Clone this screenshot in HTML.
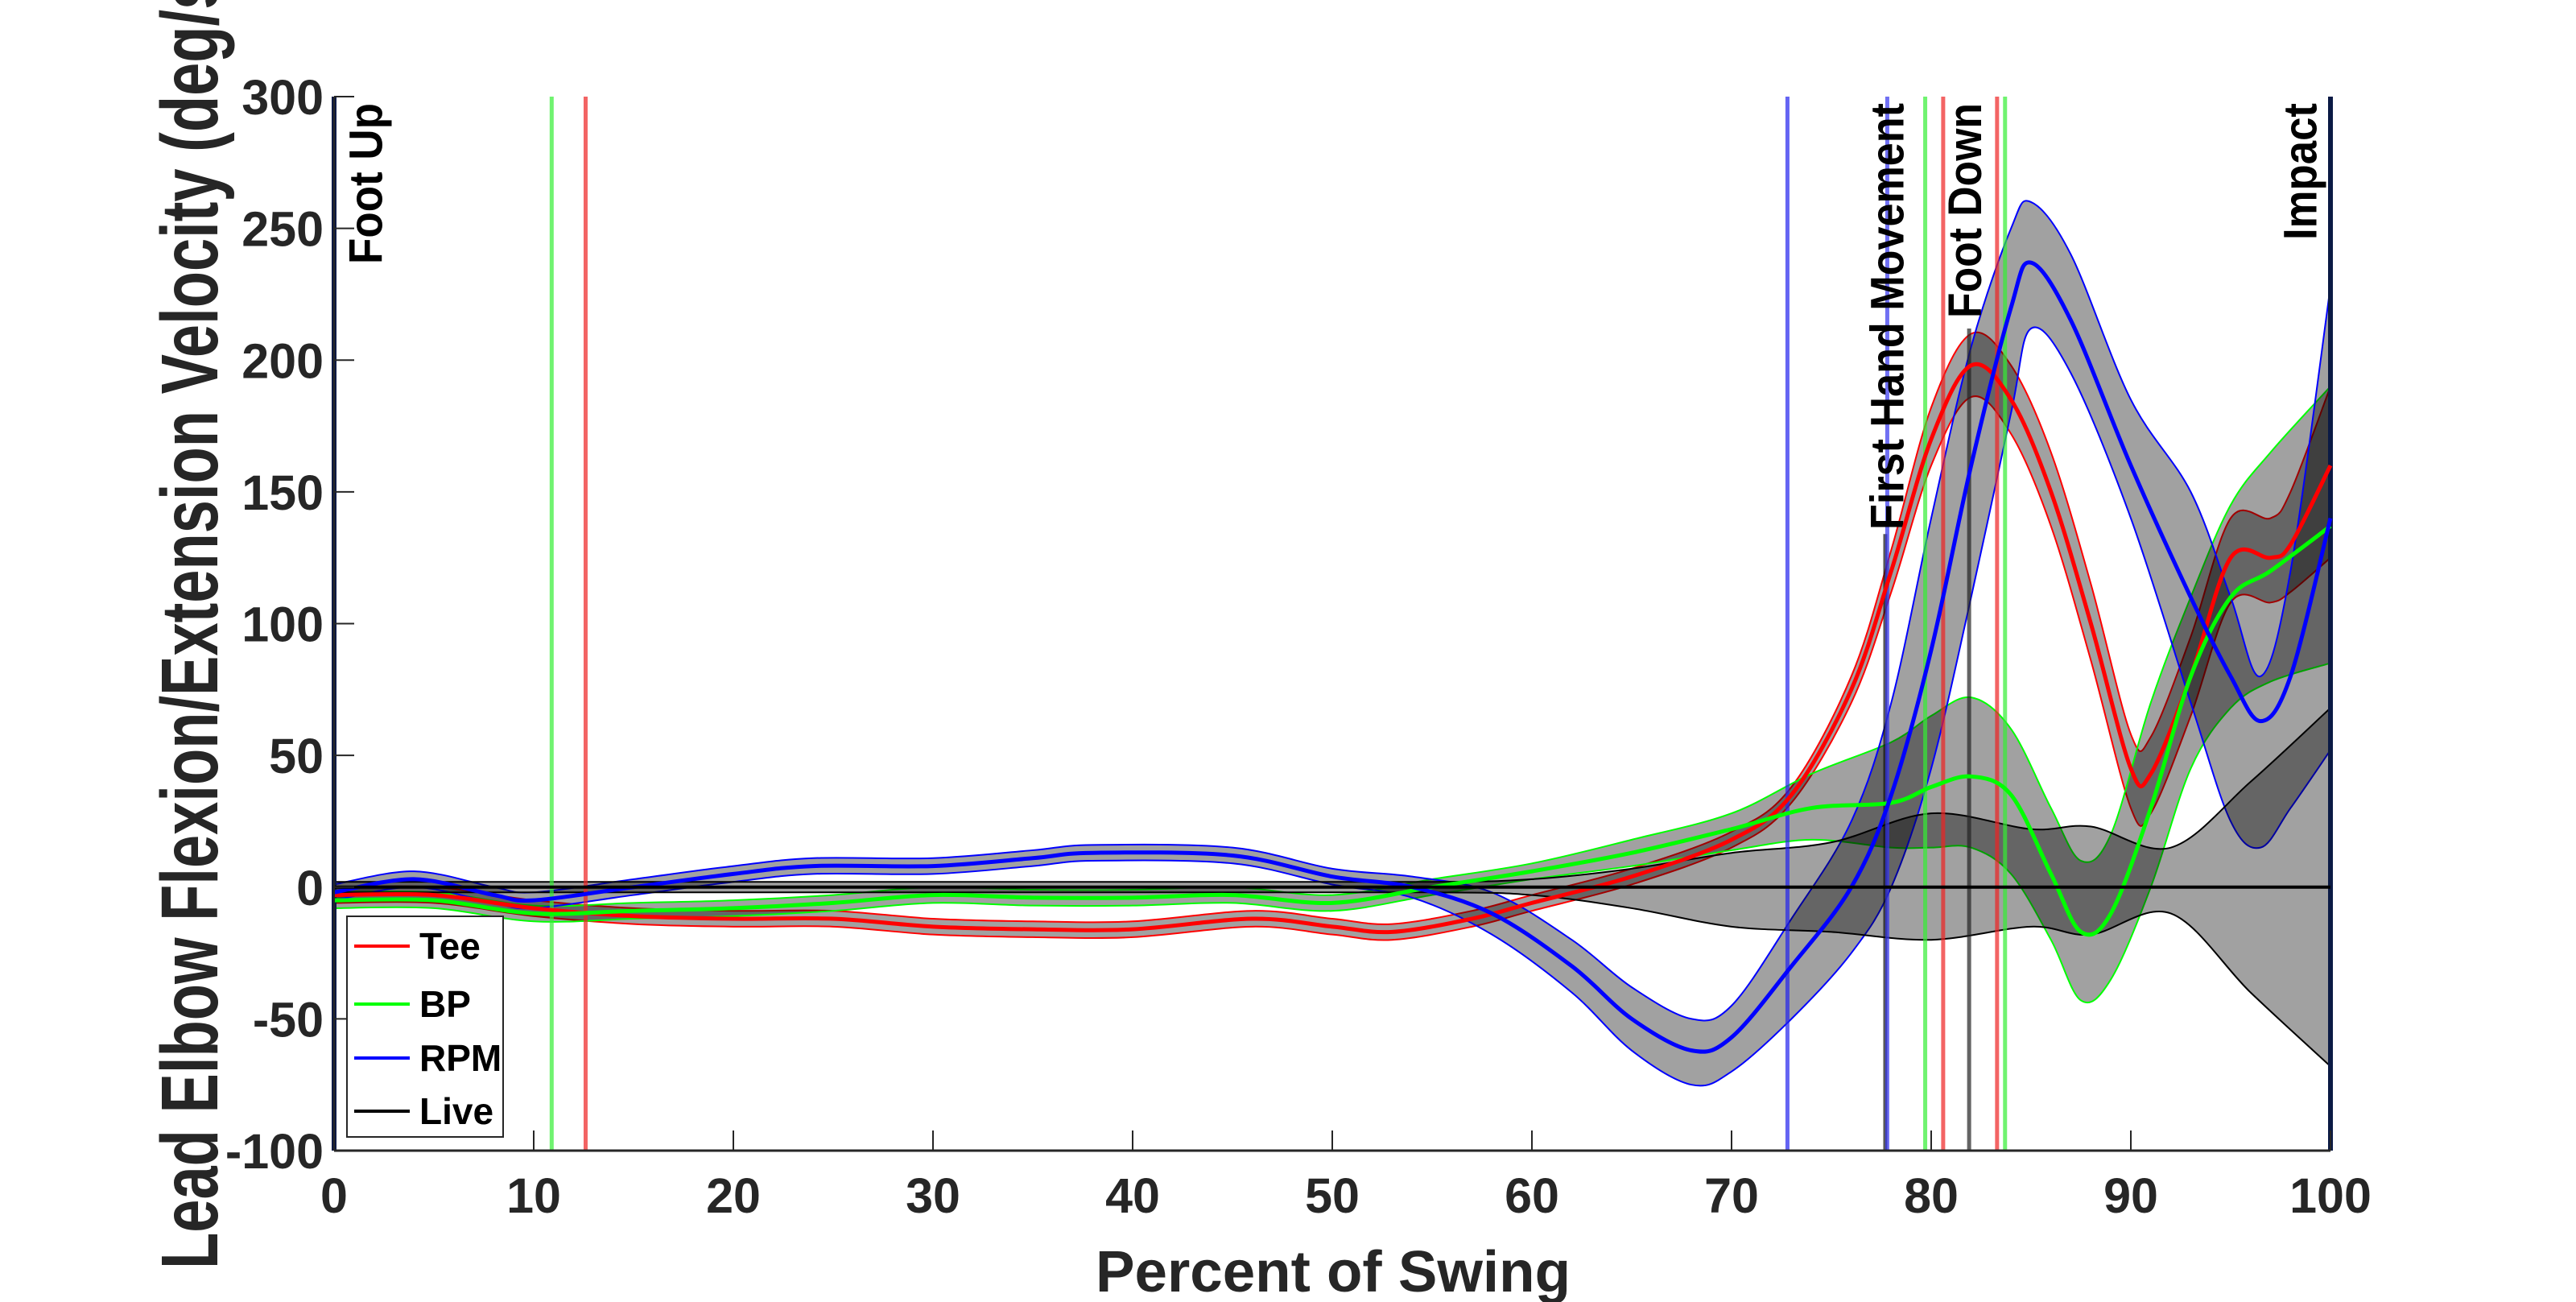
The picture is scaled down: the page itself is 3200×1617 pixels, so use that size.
<!DOCTYPE html>
<html><head><meta charset="utf-8"><style>
html,body{margin:0;padding:0;background:#fff}
svg{display:block}
text{font-family:"Liberation Sans",Arial,sans-serif;font-weight:bold;fill:#262626}
</style></head><body>
<svg id="chart" width="3200" height="1617" viewBox="0 0 3200 1617" xmlns="http://www.w3.org/2000/svg">
<g id="bands"></g>
<g id="events"></g>
<g id="lines"></g>
<g id="axes"></g>
</svg>
<script>
// ---- data ----
const xTicks = [0,10,20,30,40,50,60,70,80,90,100];
const yTicks = [-100,-50,0,50,100,150,200,250,300];

const teeX    = [0,5,10,15,20,25,30,35,40,46,50,53,57,60,65,70,73,76,78,80,82,84,86,88,90,91,93,95,97,98,100];
const teeMean = [-3,-3,-8,-11,-12,-12,-15,-16,-16,-12,-15,-17,-12,-6,4,18,35,75,120,170,198,185,150,100,45,43,80,125,125,130,160];
const teeUp   = [0,0,-5,-8,-9,-9,-12,-13,-13,-9,-12,-14,-9,-3,7,21,38,80,128,182,210,198,165,115,58,57,95,140,140,150,190];
const teeLo   = [-6,-6,-11,-14,-15,-15,-18,-19,-19,-15,-18,-20,-15,-9,1,15,32,70,112,160,186,172,137,86,30,28,65,108,108,112,125];

const bpX    = [0,5,10,15,20,25,30,35,40,45,50,55,60,65,70,74,78,80,82,84,86,87.5,89,91,93,95,97,100];
const bpMean = [-5,-5,-10,-9,-8,-6,-3,-4,-4,-3,-6,0,6,13,22,30,32,38,42,35,5,-17,-10,30,80,110,120,137];
const bpUp   = [-2,-2,-7,-6,-5,-3,0,-1,-1,0,-3,3,9,18,28,43,55,65,72,60,30,10,20,70,110,145,165,190];
const bpLo   = [-8,-8,-13,-12,-11,-9,-6,-7,-7,-6,-9,-3,3,8,14,18,15,15,15,5,-20,-43,-35,0,45,68,78,85];

const rpmX    = [0,4,8,10,15,20,24,30,35,38,45,50,54,58,62,65,68,70,73,76,78,80,82,84,85,87,90,93,95,96.5,98,100];
const rpmMean = [-2,3,-3,-5,0,5,8,8,11,13,12,4,0,-10,-30,-50,-62,-57,-30,0,35,90,160,220,237,215,160,110,80,63,80,140];
const rpmUp   = [1,6,0,-2,3,8,11,11,14,16,15,7,4,-2,-20,-38,-50,-45,-12,25,70,140,205,250,260,240,185,150,110,80,120,228];
const rpmLo   = [-5,0,-6,-8,-3,2,5,5,8,10,9,1,-4,-18,-40,-62,-75,-70,-50,-25,0,45,110,180,212,195,140,70,25,15,30,52];

const liveX    = [0,20,40,55,60,65,70,75,80,85,88,92,96,100];
const liveMean = [0,0,0,0,0,0,0,0,0,0,0,0,0,0];
const liveUp   = [2,2,2,2,3,7,13,17,28,22,23,15,40,68];
const liveLo   = [-2,-2,-2,-2,-3,-8,-15,-17,-20,-15,-18,-10,-40,-68];

const eventPct    = [0,10.9,12.6,72.8,77.7,77.8,79.7,80.6,81.9,83.3,83.7,100];
const eventColors = ["#0b1a45","#33ee33","#ee2222","#2222ee","#111111","#3333ee","#33ee33","#ee2222","#222222","#ee2222","#33ee33","#0b1a45"];
const eventTop    = [300,300,300,300,134,300,300,300,212,300,300,300];

const labelText = ["Foot Up","First Hand Movement","Foot Down","Impact"];
const labelPct  = [2.4,78.6,82.5,99.3];
const labelLen  = [200,530,267,170];

// ---- scales ----
const L=415,R=2895,T=120,B=1429;
const xs=v=>L+(v/100)*(R-L);
const ys=v=>B-(v+100)/400*(B-T);
const NS="http://www.w3.org/2000/svg";
function mk(tag,attrs,parent){const e=document.createElementNS(NS,tag);for(const k in attrs)e.setAttribute(k,attrs[k]);parent.appendChild(e);return e;}
function smooth(xa,ya){
  const p=xa.map((x,i)=>[xs(x),ys(ya[i])]);
  let d=`M${p[0][0]},${p[0][1]}`;
  for(let i=0;i<p.length-1;i++){
    const p0=p[i-1]||p[i],p1=p[i],p2=p[i+1],p3=p[i+2]||p[i+1];
    const c1=[p1[0]+(p2[0]-p0[0])/6,p1[1]+(p2[1]-p0[1])/6];
    const c2=[p2[0]-(p3[0]-p1[0])/6,p2[1]-(p3[1]-p1[1])/6];
    d+=` C${c1[0]},${c1[1]} ${c2[0]},${c2[1]} ${p2[0]},${p2[1]}`;
  }
  return d;
}
function smoothRev(xa,ya){
  return smooth(xa.slice().reverse(),ya.slice().reverse()).replace(/^M/,'L');
}
const series=[
  {n:"tee",x:teeX,m:teeMean,u:teeUp,l:teeLo,c:"#ff0000"},
  {n:"bp",x:bpX,m:bpMean,u:bpUp,l:bpLo,c:"#00ff00"},
  {n:"rpm",x:rpmX,m:rpmMean,u:rpmUp,l:rpmLo,c:"#0000ff"},
  {n:"live",x:liveX,m:liveMean,u:liveUp,l:liveLo,c:"#000000"}
];
const bands=document.getElementById('bands'),lines=document.getElementById('lines'),ev=document.getElementById('events'),ax=document.getElementById('axes');
series.forEach(s=>{
  const f=mk('path',{d:smooth(s.x,s.u)+' '+smoothRev(s.x,s.l)+' Z',fill:'#000','fill-opacity':0.37,stroke:'none'},bands);
  
  
  const a=mk('path',{d:smooth(s.x,s.u),fill:'none',stroke:s.c,'stroke-width':2},bands);
  
  
  const b=mk('path',{d:smooth(s.x,s.l),fill:'none',stroke:s.c,'stroke-width':2},bands);
  
  
});
eventPct.forEach((p,i)=>{
  const nav=(i===0||i===eventPct.length-1);
  const e=mk('line',{x1:xs(p),x2:xs(p),y1:ys(eventTop[i]),y2:B,stroke:eventColors[i],'stroke-width':nav?6:5,'stroke-opacity':nav?1:0.7},ev);
  
  
});
series.forEach(s=>{
  const m=mk('path',{d:smooth(s.x,s.m),fill:'none',stroke:s.c,'stroke-width':s.n==='live'?4:5},lines);
  
  
});
labelText.forEach((t,i)=>{
  const x=xs(labelPct[i]);
  const e=mk('text',{x:0,y:0,transform:`translate(${x},128) rotate(-90)`,'text-anchor':'end','font-size':58,textLength:labelLen[i],lengthAdjust:'spacingAndGlyphs',style:'fill:#000'},ev);
  e.textContent=t;
  
  
});
// axes
const la=mk('line',{x1:L,x2:L,y1:T,y2:B,stroke:'#262626','stroke-width':2},ax);


const ba=mk('line',{x1:L,x2:R,y1:B,y2:B,stroke:'#262626','stroke-width':3},ax);


yTicks.forEach(v=>{
  const t=mk('line',{x1:L,x2:L+25,y1:ys(v),y2:ys(v),stroke:'#262626','stroke-width':2},ax);
  
  
  const l=mk('text',{x:402,y:ys(v)+22,'text-anchor':'end','font-size':61},ax);
  l.textContent=v;
  
  
});
xTicks.forEach(v=>{
  const t=mk('line',{x1:xs(v),x2:xs(v),y1:B,y2:B-25,stroke:'#262626','stroke-width':2},ax);
  
  
  const l=mk('text',{x:xs(v),y:1506,'text-anchor':'middle','font-size':61},ax);
  l.textContent=v;
  
  
});
const xt=mk('text',{x:1656,y:1604,'text-anchor':'middle','font-size':72,textLength:590,lengthAdjust:'spacingAndGlyphs'},ax);
xt.textContent='Percent of Swing';


const yt=mk('text',{x:0,y:0,transform:'translate(270,1576) rotate(-90)','font-size':100,textLength:1630,lengthAdjust:'spacingAndGlyphs'},ax);
yt.textContent='Lead Elbow Flexion/Extension Velocity (deg/s)';


// legend
const lg=mk('g',{},ax);


mk('rect',{x:431,y:1138,width:194,height:274,fill:'#fff',stroke:'#262626','stroke-width':2},lg);
const legNames=["Tee","BP","RPM","Live"],legY=[1175,1247,1314,1380];
series.forEach((s,i)=>{
  const en=mk('g',{},lg);
  
  
  mk('line',{x1:440,x2:509,y1:legY[i],y2:legY[i],stroke:s.c,'stroke-width':4},en);
  const t=mk('text',{x:521,y:legY[i]+16,'font-size':46,style:'fill:#000'},en);
  t.textContent=legNames[i];
});
</script>
</body></html>
